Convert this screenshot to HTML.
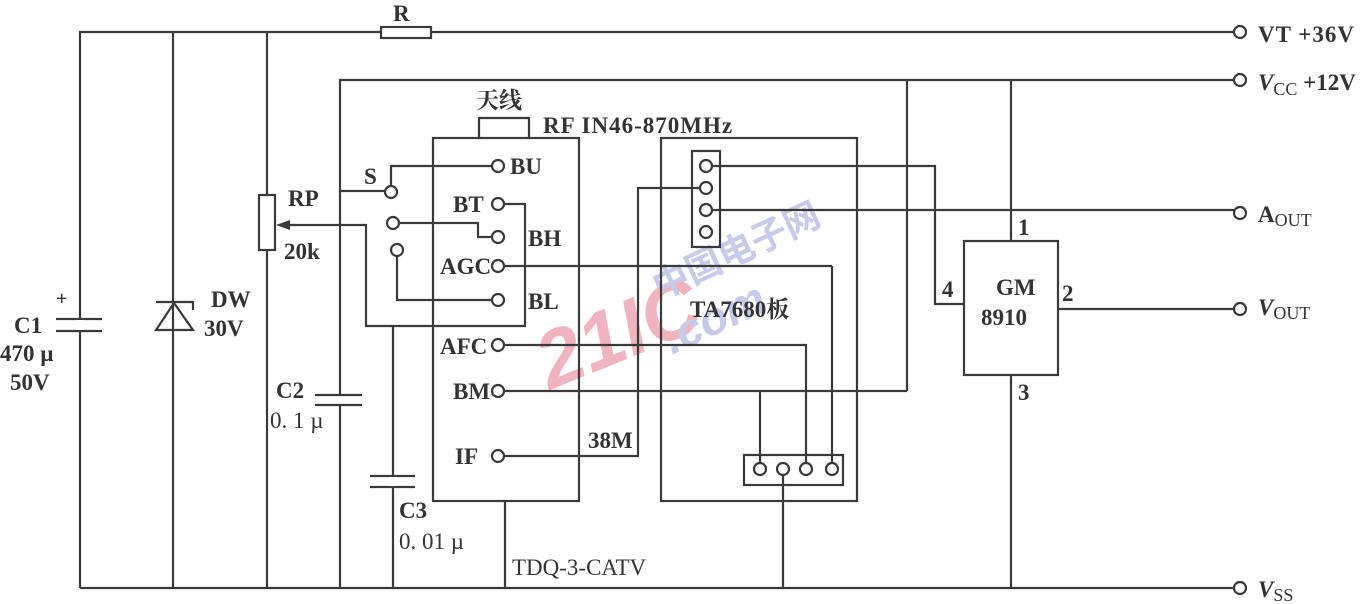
<!DOCTYPE html>
<html><head><meta charset="utf-8"><style>
html,body{margin:0;padding:0;background:#fff;}
svg{display:block;}
text{font-family:"Liberation Serif","Noto Serif CJK SC",serif;font-weight:bold;fill:#333;font-size:23px;}
</style></head><body>
<svg width="1366" height="604" viewBox="0 0 1366 604" xmlns="http://www.w3.org/2000/svg">
<g opacity="0.55">
<text x="550" y="390" transform="rotate(-22 550 390)" style="font-family:'Liberation Sans',sans-serif;font-size:80px;font-style:italic;fill:#e5788a">21IC</text>
<text x="660" y="300" transform="rotate(-25 660 300)" style="font-family:'Noto Sans CJK SC',sans-serif;font-size:36px;fill:#9aa0d8">中国电子网</text>
<text x="672" y="355" transform="rotate(-25 672 355)" style="font-family:'Liberation Sans',sans-serif;font-size:46px;font-style:italic;fill:#9aa0d8">.com</text>
</g>
<g stroke="#3a3a3a" stroke-width="2.2" fill="none">
<polyline points="80,588 80,32 381,32"/>
<rect x="381" y="27" width="50" height="11"/>
<line x1="431" y1="32" x2="1234" y2="32"/>
<line x1="80" y1="588" x2="1234" y2="588"/>
<line x1="56" y1="319" x2="102" y2="319"/>
<line x1="56" y1="331" x2="102" y2="331"/>
<line x1="173" y1="32" x2="173" y2="588"/>
<polyline points="156,302 193,302 193,310"/>
<polygon points="174,303 156,330 193,330"/>
<line x1="267" y1="32" x2="267" y2="588"/>
<rect x="259" y="195" width="16" height="55" fill="#fff"/>
<polyline points="340,588 340,80 1234,80"/>
<line x1="340" y1="191" x2="386" y2="191"/>
<polyline points="391,186 391,166 492,166"/>
<polyline points="398,223 478,223 478,237 492,237"/>
<polyline points="397,256 397,300 492,300"/>
<polyline points="504,204 525,204 525,326 366,326 366,225 285,225"/>
<line x1="393" y1="326" x2="393" y2="476"/>
<line x1="393" y1="487" x2="393" y2="588"/>
<line x1="370" y1="476" x2="415" y2="476"/>
<line x1="370" y1="487" x2="415" y2="487"/>
<rect x="433" y="138" width="146" height="363"/>
<polyline points="479,138 479,118 529,118 529,138"/>
<line x1="505" y1="501" x2="505" y2="588"/>
<rect x="661" y="138" width="196" height="363"/>
<rect x="692" y="151" width="28" height="96"/>
<rect x="744" y="455" width="99" height="30"/>
<line x1="504" y1="266" x2="832" y2="266"/><line x1="832" y1="266" x2="832" y2="462"/>
<polyline points="504,345 806,345 806,462"/>
<line x1="504" y1="391" x2="907" y2="391"/><line x1="907" y1="391" x2="907" y2="80"/>
<polyline points="760,391 760,462"/>
<line x1="783" y1="474" x2="783" y2="588"/>
<polyline points="504,456 638,456 638,188 700,188"/>
<polyline points="712,166 935,166 935,304 964,304"/>
<line x1="712" y1="210" x2="1234" y2="210"/>
<rect x="964" y="241" width="94" height="134"/>
<line x1="1011" y1="80" x2="1011" y2="241"/>
<line x1="1011" y1="375" x2="1011" y2="588"/>
<line x1="1058" y1="309" x2="1234" y2="309"/>
</g>
<rect x="336" y="396" width="8" height="9" fill="#fff"/>
<g stroke="#3a3a3a" stroke-width="2.2" fill="none">
<line x1="315" y1="395" x2="362" y2="395"/>
<line x1="315" y1="405" x2="362" y2="405"/>
</g>
<rect x="76" y="320" width="8" height="10" fill="#fff"/>
<rect x="389" y="477" width="8" height="9" fill="#fff"/>
<polygon points="276,225 290,220 290,230" fill="#3a3a3a"/>
<g stroke="#3a3a3a" stroke-width="2.2" fill="#fff">
<circle cx="391" cy="192" r="6"/><circle cx="393" cy="223" r="6"/><circle cx="397" cy="250" r="6"/>
<circle cx="498" cy="166" r="6"/><circle cx="498" cy="204" r="6"/><circle cx="498" cy="237" r="6"/>
<circle cx="498" cy="266" r="6"/><circle cx="498" cy="300" r="6"/><circle cx="498" cy="345" r="6"/>
<circle cx="498" cy="391" r="6"/><circle cx="498" cy="456" r="6"/>
<circle cx="706" cy="166" r="6"/><circle cx="706" cy="188" r="6"/><circle cx="706" cy="210" r="6"/><circle cx="706" cy="232" r="6"/>
<circle cx="760" cy="469" r="6"/><circle cx="783" cy="469" r="6"/><circle cx="806" cy="469" r="6"/><circle cx="832" cy="469" r="6"/>
<circle cx="1240" cy="32" r="6"/><circle cx="1240" cy="80" r="6"/><circle cx="1240" cy="213" r="6"/><circle cx="1240" cy="309" r="6"/><circle cx="1240" cy="588" r="6"/>
</g>
<text x="393" y="21">R</text>
<text x="476" y="108" style="font-family:'Noto Serif CJK SC',serif;font-size:23px">天线</text>
<text x="543" y="133" letter-spacing="1">RF  IN46-870MHz</text>
<text x="364" y="184">S</text>
<text x="510" y="174">BU</text>
<text x="453" y="212">BT</text>
<text x="528" y="246">BH</text>
<text x="440" y="274">AGC</text>
<text x="528" y="309">BL</text>
<text x="440" y="354">AFC</text>
<text x="453" y="399">BM</text>
<text x="455" y="464">IF</text>
<text x="588" y="448">38M</text>
<text x="512" y="575" style="font-weight:normal">TDQ-3-CATV</text>
<text x="690" y="317">TA7680板</text>
<text x="288" y="206">RP</text>
<text x="284" y="259">20k</text>
<text x="56" y="305" style="font-size:20px">+</text>
<text x="14" y="333">C1</text>
<text x="0" y="361">470 µ</text>
<text x="10" y="390">50V</text>
<text x="211" y="307">DW</text>
<text x="204" y="336">30V</text>
<text x="276" y="398">C2</text>
<text x="270" y="428" style="font-weight:normal">0. 1 µ</text>
<text x="399" y="518">C3</text>
<text x="399" y="549" style="font-weight:normal">0. 01 µ</text>
<text x="1018" y="235">1</text>
<text x="1062" y="301">2</text>
<text x="1018" y="400">3</text>
<text x="942" y="297">4</text>
<text x="996" y="295">GM</text>
<text x="981" y="325">8910</text>
<text x="1258" y="42" letter-spacing="1">VT  +36V</text>
<text x="1258" y="90"><tspan font-style="italic">V</tspan><tspan font-size="18" dy="5" style="font-weight:normal">CC</tspan><tspan dy="-5"> +12V</tspan></text>
<text x="1258" y="222">A<tspan font-size="18" dy="4" style="font-weight:normal">OUT</tspan></text>
<text x="1258" y="315"><tspan font-style="italic">V</tspan><tspan font-size="18" dy="4" style="font-weight:normal">OUT</tspan></text>
<text x="1258" y="597"><tspan font-style="italic">V</tspan><tspan font-size="18" dy="4" style="font-weight:normal">SS</tspan></text>
</svg>
</body></html>
